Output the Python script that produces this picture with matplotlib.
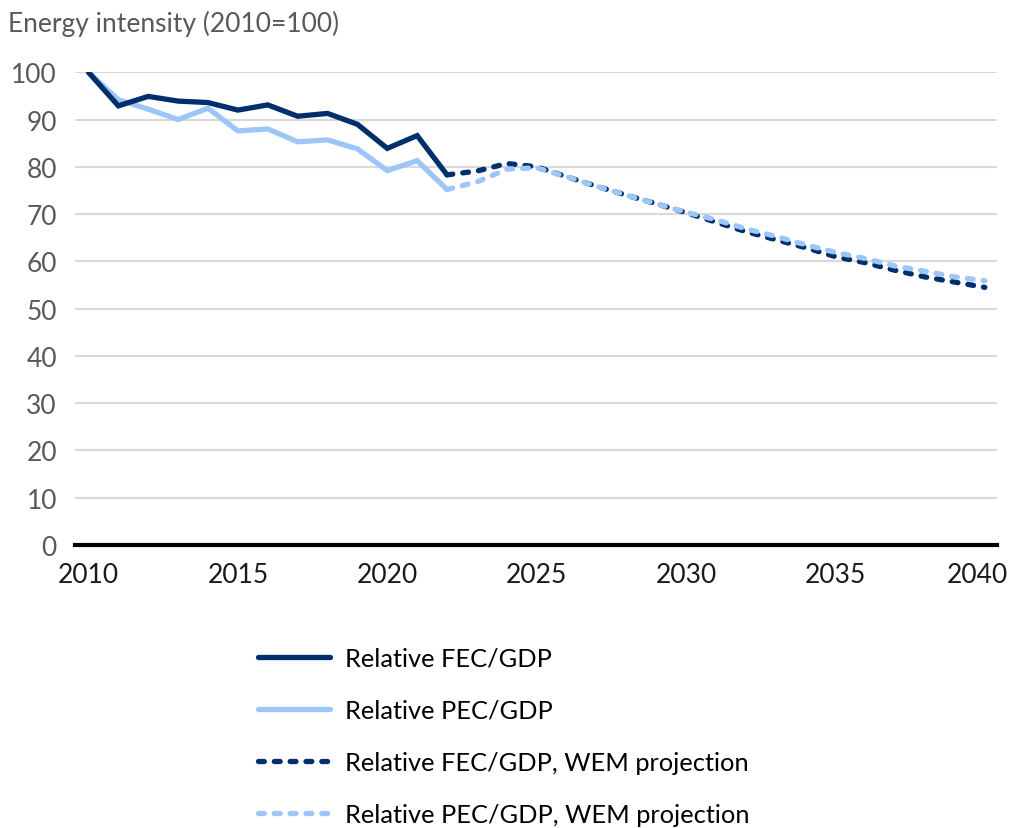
import matplotlib
matplotlib.use("Agg")
import matplotlib.pyplot as plt
import matplotlib.transforms as mtransforms

# ---- data ----
hist_years = list(range(2010, 2023))
fec_hist = [100, 92.9, 94.9, 93.9, 93.6, 92.0, 93.1, 90.7, 91.3, 89.0, 83.9, 86.6, 78.3]
pec_hist = [100, 94.2, 92.2, 90.0, 92.4, 87.6, 88.0, 85.3, 85.7, 83.8, 79.2, 81.3, 75.2]

proj_years = list(range(2022, 2041))
fec_proj = [78.3, 79.1, 80.7, 80.0, 77.9, 75.9, 74.0, 72.2, 70.3, 68.3, 66.3, 64.6,
            62.9, 61.0, 59.7, 58.1, 56.7, 55.6, 54.5]
pec_proj = [75.2, 76.8, 79.5, 79.8, 77.9, 75.9, 74.0, 72.2, 70.4, 68.8, 66.9, 65.3,
            63.5, 61.9, 60.6, 59.0, 57.9, 56.7, 55.9]

labels = ["Relative FEC/GDP", "Relative PEC/GDP",
          "Relative FEC/GDP, WEM projection", "Relative PEC/GDP, WEM projection"]
y_title = "Energy intensity (2010=100)"
x_ticks = [2010, 2015, 2020, 2025, 2030, 2035, 2040]
y_ticks = list(range(0, 101, 10))

DARK = "#002F6C"
LIGHT = "#9DC6F8"

plt.rcParams["font.family"] = ["Lato", "DejaVu Sans"]

fig = plt.figure(figsize=(10.11, 8.29), dpi=100)
ax = fig.add_axes([0.0742, 0.3414, 0.9118, 0.5702])

lw = 3.8
dash = (1.1, 1.9)
l1, = ax.plot(hist_years, fec_hist, color=DARK, lw=lw, solid_capstyle="round",
              solid_joinstyle="miter", zorder=4)
l2, = ax.plot(hist_years, pec_hist, color=LIGHT, lw=lw, solid_capstyle="round",
              solid_joinstyle="miter", zorder=3)
l3, = ax.plot(proj_years, fec_proj, color=DARK, lw=lw, dashes=dash,
              dash_capstyle="round", zorder=3)
l4, = ax.plot(proj_years, pec_proj, color=LIGHT, lw=lw, dashes=dash,
              dash_capstyle="round", zorder=3)

ax.set_xlim(2009.55, 2040.4)
ax.set_ylim(0, 100)
ax.set_xticks(x_ticks)
ax.set_yticks(y_ticks)
ax.tick_params(axis="both", length=0, labelsize=19, colors="#595959")
ax.tick_params(axis="x", pad=12, labelcolor="#1a1a1a")
ax.tick_params(axis="y", pad=13)
ax.grid(axis="y", color="#d9d9d9", lw=1.5, zorder=0)
ax.set_axisbelow(True)
for s in ["top", "right", "left"]:
    ax.spines[s].set_visible(False)
ax.spines["bottom"].set_color("black")
ax.spines["bottom"].set_linewidth(3)
ax.spines["bottom"].set_zorder(5)

# keep the last x label inside the figure, as the original does
fig.canvas.draw()
last = ax.get_xticklabels()[-1]
last.set_transform(last.get_transform() + mtransforms.ScaledTranslation(-8 / 100, 0, fig.dpi_scale_trans))

fig.text(0.008, 0.971, y_title, fontsize=19, color="#595959", ha="left", va="center")

fig.legend([l1, l2, l3, l4], labels, loc="upper left",
           bbox_to_anchor=(0.255, 0.219), frameon=False, fontsize=18.3,
           handlelength=2.85, handletextpad=0.6, labelspacing=1.15,
           borderaxespad=0, borderpad=0)

fig.savefig("out.png", dpi=100)
